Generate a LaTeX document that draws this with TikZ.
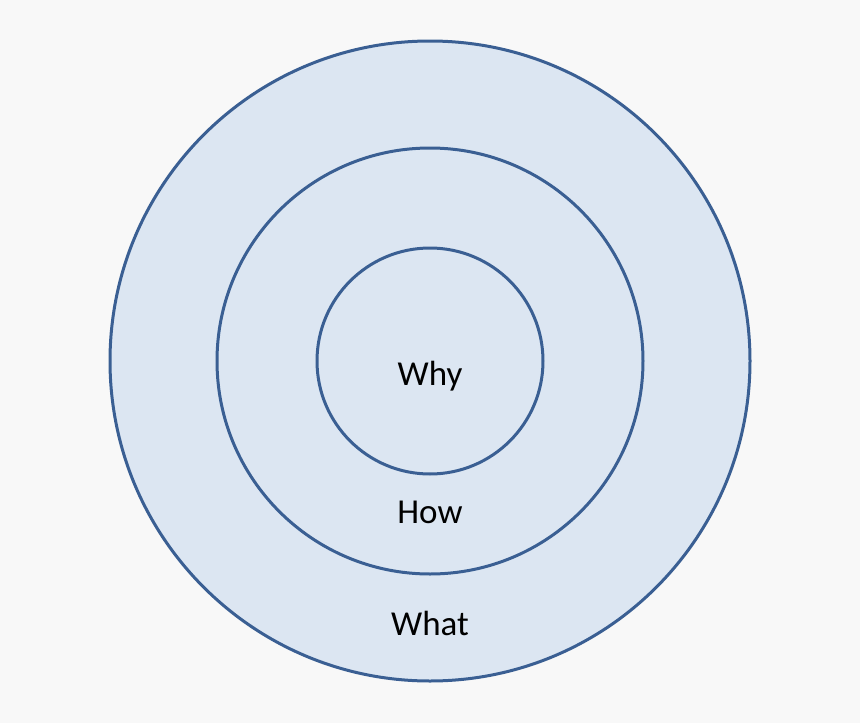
\documentclass[tikz,border=0pt]{standalone}
\usepackage{fontspec}
\setmainfont{Carlito}
\definecolor{bg}{HTML}{F8F8F8}
\definecolor{ringfill}{HTML}{DCE6F2}
\definecolor{ringline}{HTML}{3A5F93}
\begin{document}
\begin{tikzpicture}[x=1pt,y=-1pt,
  ring/.style={circle,draw=ringline,fill=ringfill,line width=3pt,inner sep=0pt},
  lbl/.style={font=\fontsize{35}{40}\selectfont,text=black}]
\fill[bg] (0,0) rectangle (860,723);
\useasboundingbox (0,0) rectangle (860,723);
\node[ring,minimum size=640pt] (outer) at (430,361) {};
\node[ring,minimum size=426pt] (middle) at (430,361) {};
\node[ring,minimum size=226pt] (inner) at (430,361) {};
\node[lbl] (why) at (430,376) {Why};
\node[lbl] (how) at (430,512) {How};
\node[lbl] (what) at (430,623) {What};
\end{tikzpicture}
\end{document}
